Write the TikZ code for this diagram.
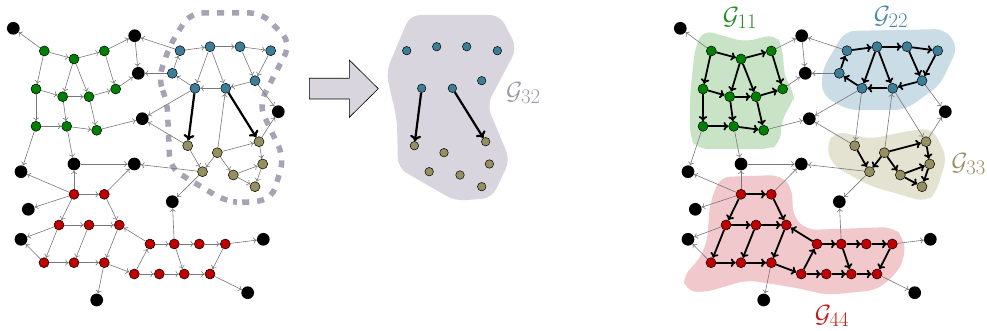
\documentclass[tikz,border=0pt]{standalone}
\usetikzlibrary{arrows.meta}
\definecolor{cgreen}{RGB}{0,128,0}
\definecolor{cteal}{RGB}{60,126,152}
\definecolor{colive}{RGB}{150,143,95}
\definecolor{cred}{RGB}{192,0,0}
\definecolor{bgreen}{RGB}{201,227,199}
\definecolor{bblue}{RGB}{202,220,230}
\definecolor{bolive}{RGB}{228,226,209}
\definecolor{bred}{RGB}{241,200,203}
\definecolor{bgray}{RGB}{216,213,222}
\definecolor{dgray}{RGB}{168,163,180}
\definecolor{lgray}{RGB}{158,153,170}
\definecolor{edgegray}{RGB}{120,120,120}
\definecolor{lgreen}{RGB}{40,140,40}
\definecolor{lteal}{RGB}{75,138,163}
\definecolor{lolive}{RGB}{153,147,106}
\definecolor{lred}{RGB}{196,26,26}
\tikzset{
 vtx/.style={circle,draw=black,line width=0.5pt,inner sep=0pt,minimum size=10pt},
 gn/.style={vtx,fill=cgreen}, tn/.style={vtx,fill=cteal},
 yn/.style={vtx,fill=colive}, rn/.style={vtx,fill=cred},
 bn/.style={circle,fill=black,inner sep=0pt,minimum size=12.7pt},
 smallt/.style={vtx,fill=cteal,minimum size=8.5pt},
 smally/.style={vtx,fill=colive,minimum size=8.5pt},
 thinedge/.style={draw=edgegray,line width=0.6pt,-{Computer Modern Rightarrow[length=3.5pt,width=6pt]}},
 thickedge/.style={draw=black,line width=1.8pt,-{Computer Modern Rightarrow[length=5pt,width=8.5pt]}},
 bigedge/.style={draw=black,line width=2.2pt,-{Computer Modern Rightarrow[length=6pt,width=11pt]}},
 blob/.style={rounded corners=10pt},
 lbl/.style={inner sep=0pt,font=\Huge}
}
\newcommand\graphnodes[2]{%
\begin{scope}[xshift=#2]
\node[bn] (#1B1) at (13.3,28.3) {};
\node[bn] (#1B2) at (134.7,35.7) {};
\node[bn] (#1B3) at (138.3,73.3) {};
\node[bn] (#1B4) at (142.3,118.7) {};
\node[bn] (#1B5) at (278.3,111.7) {};
\node[bn] (#1B6) at (172.3,201.7) {};
\node[bn] (#1B7) at (134.3,164) {};
\node[bn] (#1B8) at (21,171.7) {};
\node[bn] (#1B9) at (74,164) {};
\node[bn] (#1B10) at (28.3,209.3) {};
\node[bn] (#1B11) at (21,239.3) {};
\node[bn] (#1B12) at (263.3,239.3) {};
\node[bn] (#1B13) at (96.7,300) {};
\node[bn] (#1B14) at (247.7,292.7) {};
\node[gn] (#1g1) at (44.3,51) {};
\node[gn] (#1g2) at (74,59) {};
\node[gn] (#1g3) at (104.3,51) {};
\node[gn] (#1g4) at (36,89) {};
\node[gn] (#1g5) at (62.7,96.7) {};
\node[gn] (#1g6) at (89,96.7) {};
\node[gn] (#1g7) at (115.7,89) {};
\node[gn] (#1g8) at (36,126.3) {};
\node[gn] (#1g9) at (66.7,126.3) {};
\node[gn] (#1g10) at (96.7,130.3) {};
\node[tn] (#1t1) at (180,50.7) {};
\node[tn] (#1t2) at (210,46.7) {};
\node[tn] (#1t3) at (240,46.7) {};
\node[tn] (#1t4) at (270.7,50.7) {};
\node[tn] (#1t5) at (172.3,73.3) {};
\node[tn] (#1t6) at (195,88.3) {};
\node[tn] (#1t7) at (225.7,88.3) {};
\node[tn] (#1t8) at (255,80.7) {};
\node[yn] (#1y1) at (187.7,145.7) {};
\node[yn] (#1y2) at (217.3,152.7) {};
\node[yn] (#1y3) at (259,141.7) {};
\node[yn] (#1y4) at (202.5,171.7) {};
\node[yn] (#1y5) at (233.3,175) {};
\node[yn] (#1y6) at (262.7,164) {};
\node[yn] (#1y7) at (255,186.7) {};
\node[rn] (#1r1) at (74,194.3) {};
\node[rn] (#1r2) at (104.3,194.3) {};
\node[rn] (#1r3) at (59,225) {};
\node[rn] (#1r4) at (89,225) {};
\node[rn] (#1r5) at (119.3,225) {};
\node[rn] (#1r6) at (44,262.7) {};
\node[rn] (#1r7) at (74,262.7) {};
\node[rn] (#1r8) at (104.3,262.7) {};
\node[rn] (#1r9) at (150,244) {};
\node[rn] (#1r10) at (174.3,244) {};
\node[rn] (#1r11) at (199.3,244) {};
\node[rn] (#1r12) at (225.3,244) {};
\node[rn] (#1r13) at (134.3,274) {};
\node[rn] (#1r14) at (159.3,274) {};
\node[rn] (#1r15) at (184.3,274) {};
\node[rn] (#1r16) at (210,274) {};
\end{scope}}
\def\intraE{g1/g2,g2/g3,g1/g4,g2/g5,g2/g6,g3/g7,g4/g5,g5/g6,g6/g7,g4/g8,g5/g9,g6/g10,g8/g9,g9/g10,%
t1/t2,t2/t3,t3/t4,t5/t1,t6/t5,t2/t6,t2/t7,t7/t6,t3/t8,t4/t8,t8/t7,%
y1/y4,y2/y4,y2/y3,y2/y5,y5/y6,y3/y6,y6/y7,y5/y7,%
r1/r2,r1/r3,r2/r5,r3/r4,r4/r5,r3/r6,r4/r7,r5/r8,r6/r7,r7/r8,r8/r13,r13/r9,r9/r5,r9/r10,r10/r11,r11/r12,r10/r15,r12/r16,r13/r14,r14/r15,r15/r16}
\def\crossE{g1/B1,g3/B2,B2/B3,g7/B3,g10/B4,g8/B8,g9/B9,t1/B2,t5/B3,t6/B4,y1/B4,t8/B5,y3/B5,y4/B7,y4/B6,B9/B7,r1/B9,r1/B8,r1/B10,r2/B7,r3/B11,r6/B11,r8/B13,r10/B6,r12/B12,r16/B14,y2/t7}
\def\tyE{t6/y1,t7/y3}
\begin{document}
\begin{tikzpicture}[x=1pt,y=-1pt]
\useasboundingbox (0,0) rectangle (987,331);
% backgrounds
\fill[bgray,blob] (410,15) -- (500,15) -- (517,48) -- (487,105) -- (510,160) -- (492,198) -- (455,201) -- (398,168) -- (397,120) -- (386,72) -- cycle;
\fill[bgreen,blob] (703,30) -- (745,42) -- (775,34) -- (782,45) -- (785,80) -- (795,92) -- (793,102) -- (782,118) -- (780,144) -- (770,149) -- (697,149) -- (690,138) -- (690,95) -- (695,48) -- cycle;
\fill[bblue,blob] (845,31) -- (945,29) -- (958,47) -- (940,85) -- (905,110) -- (848,110) -- (822,95) -- (822,70) -- cycle;
\fill[bolive,blob] (836,131) -- (870,139) -- (908,131) -- (932,128) -- (947,157) -- (936,193) -- (926,202) -- (870,186) -- (832,165) -- (826,145) -- cycle;
\fill[bred,blob] (720,177) -- (780,175) -- (792,187) -- (793,217) -- (807,230) -- (893,227) -- (904,238) -- (905,257) -- (897,273) -- (877,290) -- (827,295) -- (797,288) -- (747,280) -- (703,293) -- (685,290) -- (683,275) -- (697,263) -- (707,243) -- (710,203) -- cycle;
% dashed selection
\draw[dgray,line width=5.5pt,dash pattern=on 7pt off 8pt,rounded corners=12pt] (190,13) -- (262,13) -- (291,43) -- (259,105) -- (284,158) -- (272,199) -- (245,203) -- (225,201) -- (170,168) -- (167,100) -- (158,80) -- (170,45) -- cycle;
% big arrow
\draw[fill=bgray,line width=0.6pt] (309.3,78.3) -- (349.3,78.3) -- (349.3,60) -- (378.3,88.7) -- (349.3,117.3) -- (349.3,99) -- (309.3,99) -- cycle;
% left graph
\graphnodes{L}{0pt}
\foreach \a/\b in \intraE {\draw[thinedge] (L\a) -- (L\b);}
\foreach \a/\b in \crossE {\draw[thinedge] (L\a) -- (L\b);}
\foreach \a/\b in \tyE {\draw[bigedge] (L\a) -- (L\b);}
% right graph
\graphnodes{R}{667pt}
\foreach \a/\b in \intraE {\draw[thickedge] (R\a) -- (R\b);}
\foreach \a/\b in \crossE {\draw[thinedge] (R\a) -- (R\b);}
\foreach \a/\b in \tyE {\draw[thinedge] (R\a) -- (R\b);}
% middle subgraph
\begin{scope}[xshift=226.7pt]
\foreach \n/\p in {t1/{180,50.7},t2/{210,46.7},t3/{240,46.7},t4/{270.7,50.7},t6/{195,88.3},t7/{225.7,88.3},t8/{255,80.7}}
  \node[smallt] (M\n) at (\p) {};
\foreach \n/\p in {y1/{187.7,145.7},y2/{217.3,152.7},y3/{259,141.7},y4/{202.5,171.7},y5/{233.3,175},y6/{262.7,164},y7/{255,186.7}}
  \node[smally] (M\n) at (\p) {};
\end{scope}
\foreach \a/\b in \tyE {\draw[bigedge] (M\a) -- (M\b);}
% labels
\node[lbl,text=lgray,anchor=west] (l32) at (506,93) {$\mathcal{G}_{32}$};
\node[lbl,text=lgreen] (l11) at (740,18) {$\mathcal{G}_{11}$};
\node[lbl,text=lteal] (l22) at (891,17) {$\mathcal{G}_{22}$};
\node[lbl,text=lolive,anchor=east] (l33) at (986,164) {$\mathcal{G}_{33}$};
\node[lbl,text=lred] (l44) at (832,316) {$\mathcal{G}_{44}$};
\end{tikzpicture}
\end{document}
